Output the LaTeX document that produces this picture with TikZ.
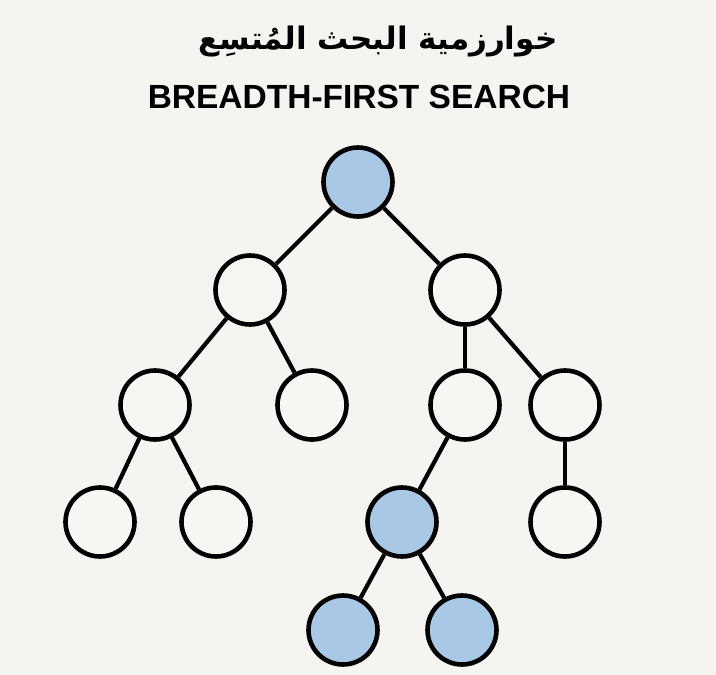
\documentclass[tikz,border=0pt]{standalone}
\usepackage{fontspec}
\setmainfont{Liberation Sans}
\newfontfamily\arabicfont[Script=Arabic]{DejaVu Sans}
\TeXXeTstate=1
\definecolor{bg}{HTML}{F5F4F1}
\definecolor{nodewhite}{HTML}{F7F6F3}
\definecolor{nodeblue}{HTML}{A8C8E5}
\begin{document}
\begin{tikzpicture}[x=1pt,y=-1pt,
  tnode/.style={circle,draw=black,line width=4.6pt,fill=nodewhite,minimum size=69pt,inner sep=0pt},
  bnode/.style={tnode,fill=nodeblue},
  edge/.style={draw=black,line width=4.2pt}]
\fill[bg] (0,0) rectangle (716,675);
\useasboundingbox (0,0) rectangle (716,675);
\node (arabic) at (378,42) {\fontsize{31}{37}\selectfont\arabicfont\bfseries\beginR خوارزمية البحث المُتسِع\endR};
\node[font=\bfseries\fontsize{33.5}{40}\selectfont] (english) at (359,97) {BREADTH-FIRST SEARCH};
\node[bnode] (r) at (358,182) {};
\node[tnode] (a) at (250,290) {};
\node[tnode] (b) at (465,290) {};
\node[tnode] (c) at (155,405) {};
\node[tnode] (d) at (312,405) {};
\node[tnode] (e) at (465,405) {};
\node[tnode] (f) at (565,405) {};
\node[tnode] (g) at (100,522) {};
\node[tnode] (h) at (216,522) {};
\node[bnode] (i) at (402,522) {};
\node[tnode] (j) at (565,522) {};
\node[bnode] (k) at (343,630) {};
\node[bnode] (l) at (462,630) {};
\path[edge] (r) -- (a);
\path[edge] (r) -- (b);
\path[edge] (a) -- (c);
\path[edge] (a) -- (d);
\path[edge] (b) -- (e);
\path[edge] (b) -- (f);
\path[edge] (c) -- (g);
\path[edge] (c) -- (h);
\path[edge] (e) -- (i);
\path[edge] (f) -- (j);
\path[edge] (i) -- (k);
\path[edge] (i) -- (l);
\end{tikzpicture}
\end{document}
